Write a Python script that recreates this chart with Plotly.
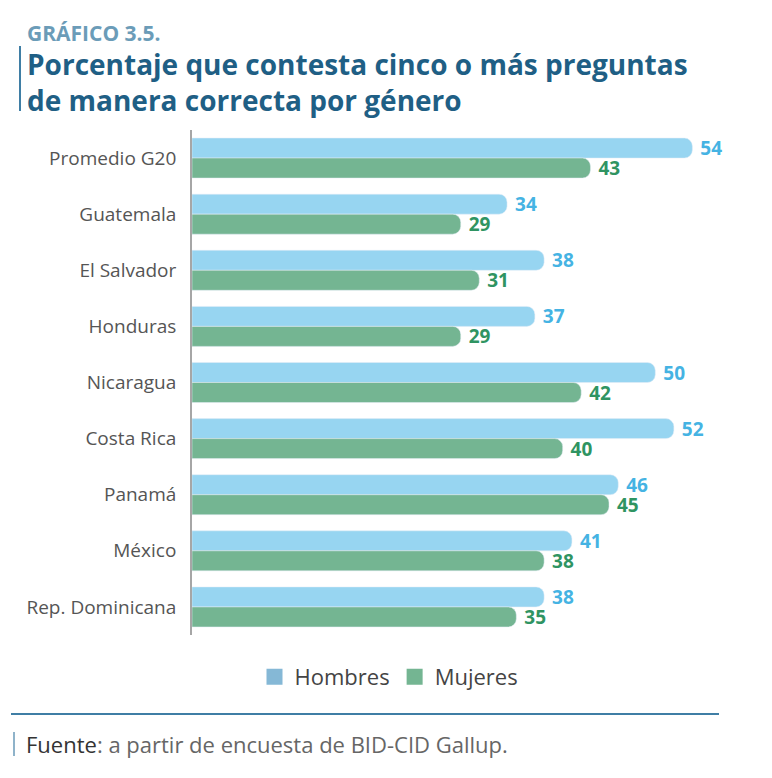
import plotly.graph_objects as go

paises = ["Promedio G20", "Guatemala", "El Salvador", "Honduras", "Nicaragua",
          "Costa Rica", "Panamá", "México", "Rep. Dominicana"]
hombres = [54, 34, 38, 37, 50, 52, 46, 41, 38]
mujeres = [43, 29, 31, 29, 42, 40, 45, 38, 35]

AZUL_BAR = "#97d5f1"
VERDE_BAR = "#74b592"
AZUL_TXT = "#45b3e3"
VERDE_TXT = "#2f9462"
FONT = "Open Sans"

# page offset of the plot div inside the browser window
OFF = 7
# plot area in figure pixels
L, R, T, B = 184, 740, 122, 627
def px(x):
    return (x - OFF - L) / (R - L)
def py(y):
    return (B - (y - OFF)) / (B - T)

fig = go.Figure()
fig.add_trace(go.Bar(
    y=paises, x=hombres, name="Hombres", orientation="h",
    marker=dict(color=AZUL_BAR, cornerradius=8),
    texttemplate="\u00a0<b>%{x}</b>", textposition="outside", constraintext="none",
    textfont=dict(color=AZUL_TXT, size=19, family=FONT),
    cliponaxis=False, showlegend=False,
))
fig.add_trace(go.Bar(
    y=paises, x=mujeres, name="Mujeres", orientation="h",
    marker=dict(color=VERDE_BAR, cornerradius=8),
    texttemplate="\u00a0<b>%{x}</b>", textposition="outside", constraintext="none",
    textfont=dict(color=VERDE_TXT, size=19, family=FONT),
    cliponaxis=False, showlegend=False,
))
# legend keys
fig.add_trace(go.Scatter(x=[None], y=[None], mode="markers", name="Hombres",
                         marker=dict(symbol="square", size=16, color="#85b8d6")))
fig.add_trace(go.Scatter(x=[None], y=[None], mode="markers", name="Mujeres",
                         marker=dict(symbol="square", size=16, color=VERDE_BAR)))

fig.update_layout(
    width=772, height=778,
    margin=dict(l=L, r=772 - R, t=T, b=778 - B, autoexpand=False),
    plot_bgcolor="white", paper_bgcolor="white",
    barmode="group", bargap=0.287, bargroupgap=0,
    font=dict(family=FONT, color="#555555"),
    xaxis=dict(range=[0, 60], visible=False),
    yaxis=dict(autorange="reversed", showline=True, linecolor="#a6a6a6",
               linewidth=2, ticks="", tickfont=dict(size=19, color="#555555"),
               ticksuffix="  ", showgrid=False, automargin=False),
    legend=dict(orientation="h", xref="container", x=(388 - OFF) / 772,
                xanchor="center", y=py(676), yanchor="middle",
                font=dict(size=22, color="#444444"), traceorder="normal"),
    shapes=[
        dict(type="line", xref="paper", yref="paper", x0=px(19), x1=px(19),
             y0=py(45), y1=py(110), line=dict(color="#3f7ea5", width=2)),
        dict(type="line", xref="paper", yref="paper", x0=px(10), x1=px(718),
             y0=py(713), y1=py(713), line=dict(color="#3f7ea5", width=2)),
        dict(type="line", xref="paper", yref="paper", x0=px(13), x1=px(13),
             y0=py(731), y1=py(755), line=dict(color="#6a9ab8", width=1.5)),
    ],
    annotations=[
        dict(xref="paper", yref="paper", x=px(24), y=py(32), xanchor="left",
             yanchor="middle", showarrow=False,
             text="<b>GRÁFICO 3.5.</b>",
             font=dict(size=21, color="#6b9cb8", family=FONT)),
        dict(xref="paper", yref="paper", x=px(24), y=py(81), xanchor="left",
             yanchor="middle", showarrow=False, align="left",
             text="<b>Porcentaje que contesta cinco o más preguntas<br>"
                  "de manera correcta por género</b>",
             font=dict(size=28, color="#1f5f85", family=FONT)),
        dict(xref="paper", yref="paper", x=px(23), y=py(743), xanchor="left",
             yanchor="middle", showarrow=False,
             text="<span style='color:#333333'>Fuente</span>: a partir de encuesta de BID-CID Gallup.",
             font=dict(size=22, color="#666666", family=FONT)),
    ],
)

fig.write_html("out.html")
